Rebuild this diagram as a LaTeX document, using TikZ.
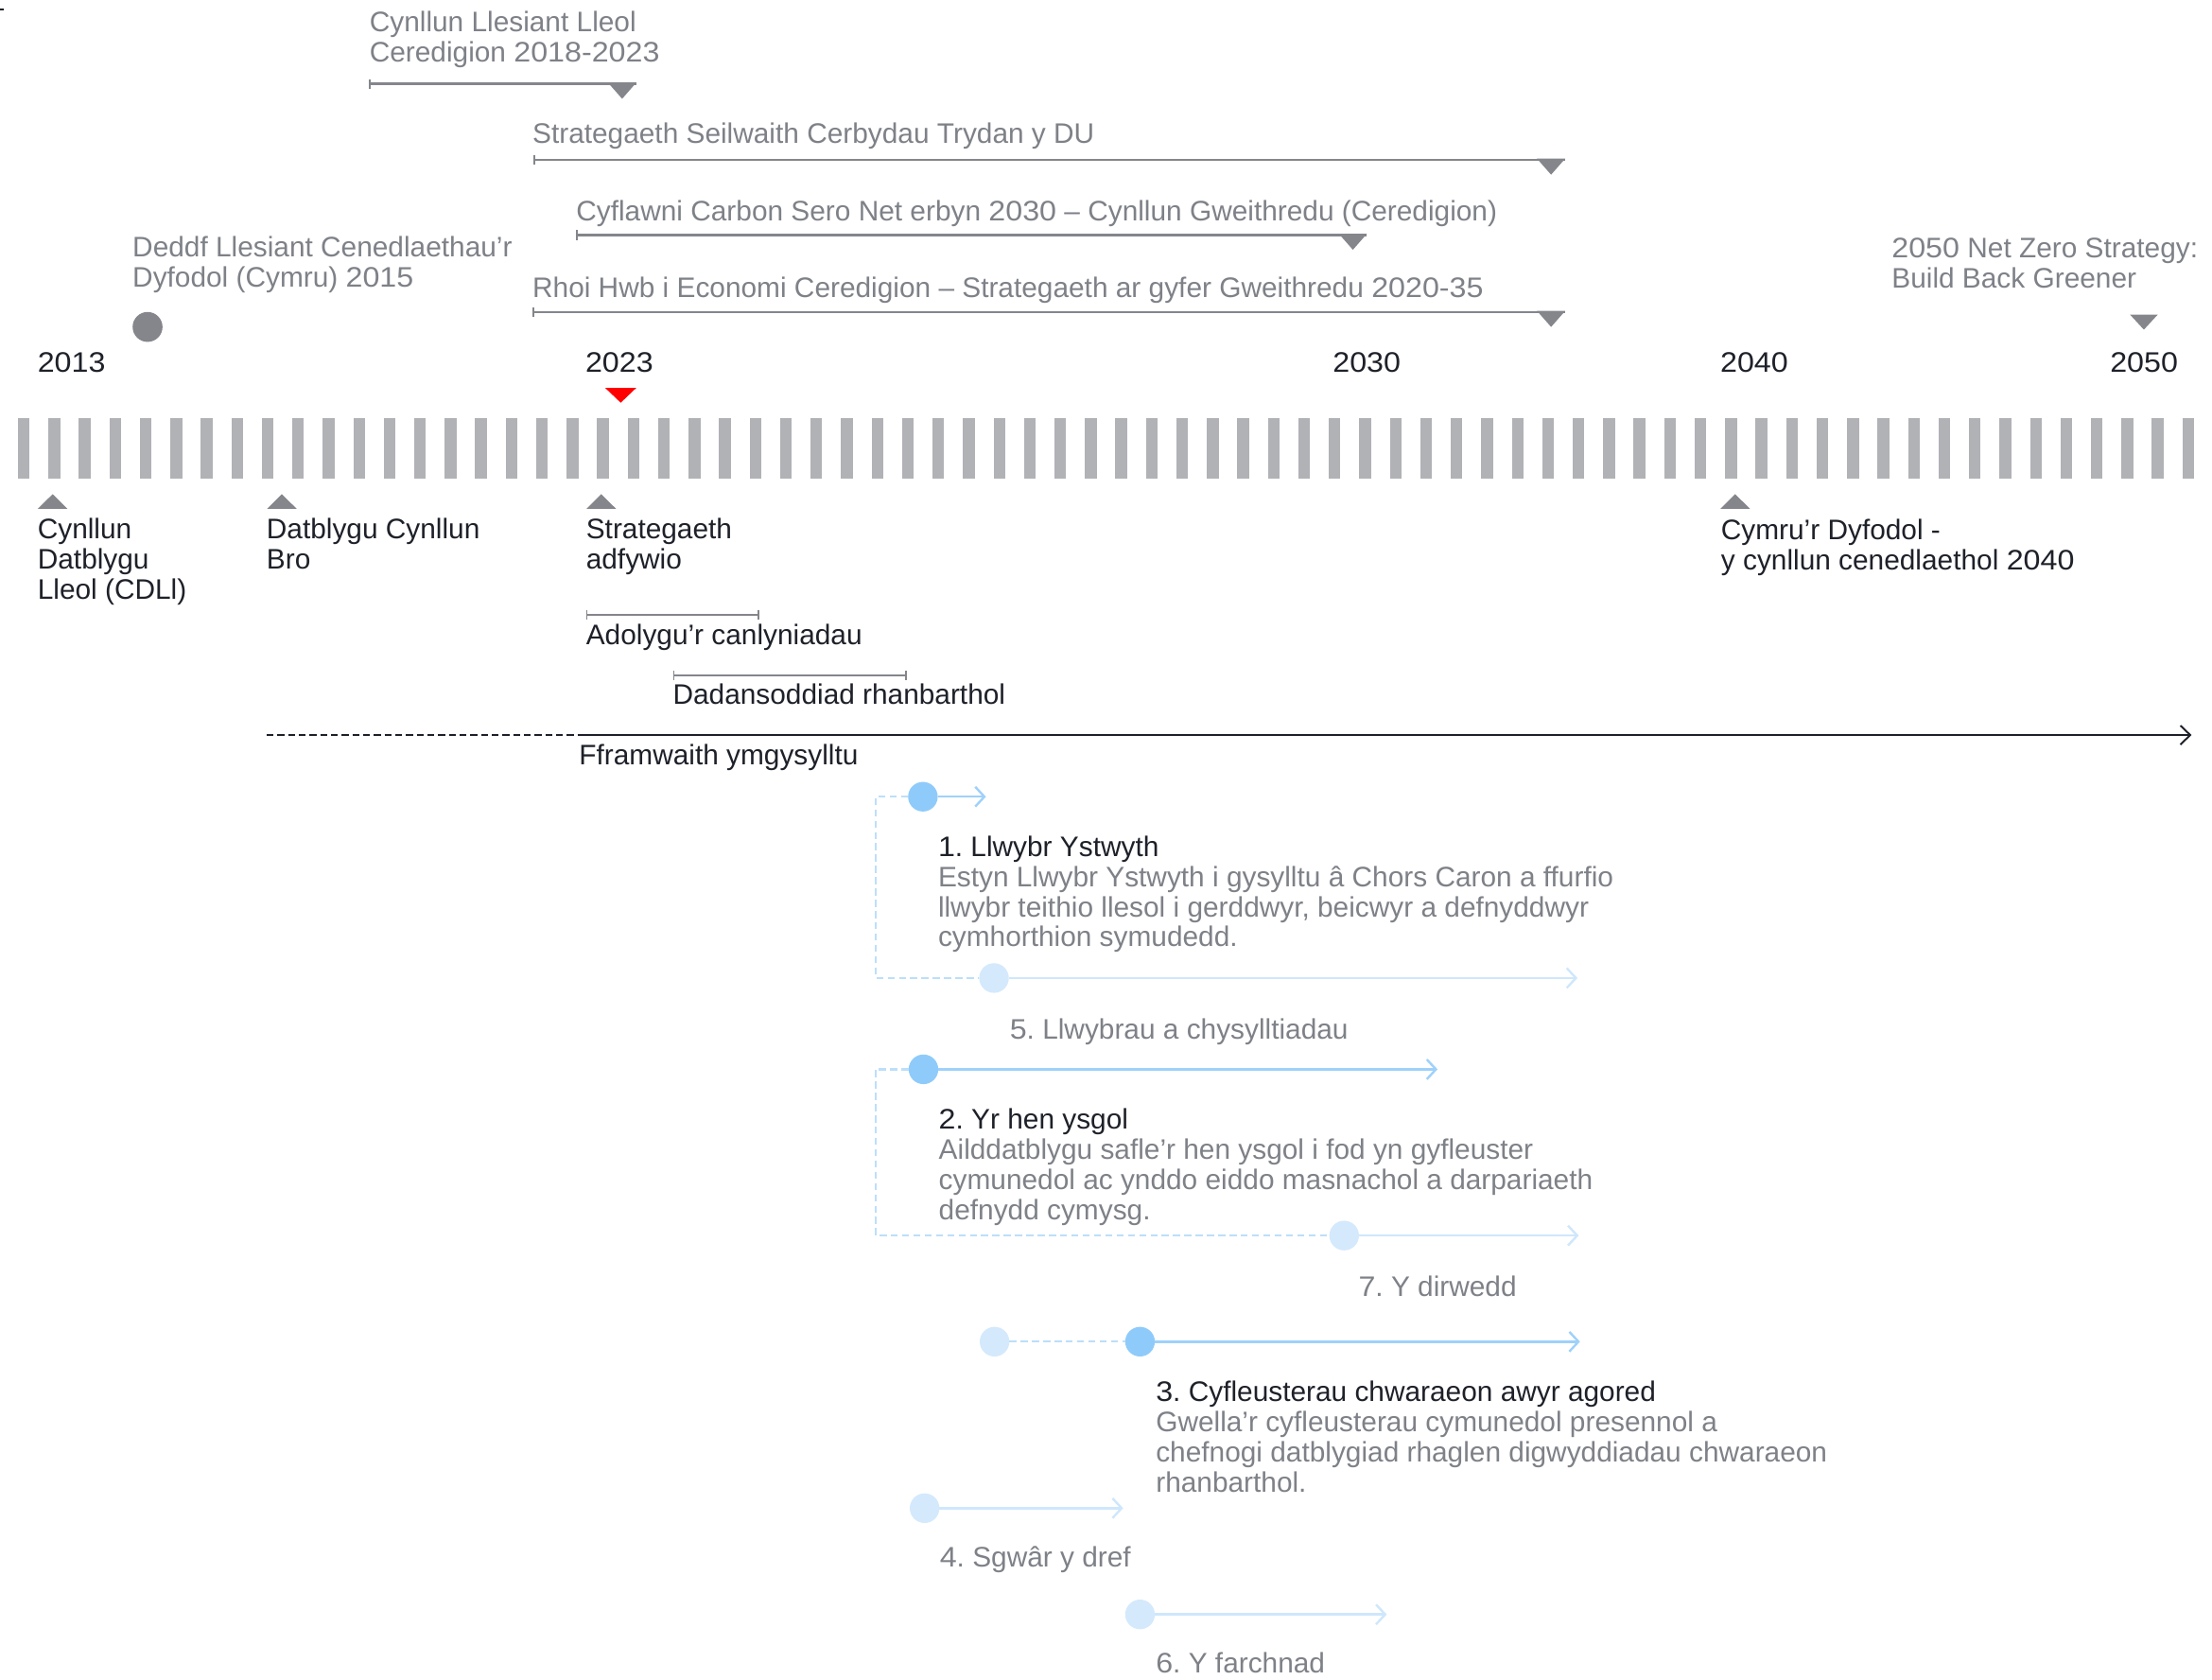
\documentclass[tikz,border=0pt]{standalone}
\usepackage{fontspec}
\setmainfont{Liberation Sans}
\usetikzlibrary{arrows.meta}
\definecolor{ink}{HTML}{1E2129}
\definecolor{muted}{HTML}{7E8187}
\definecolor{lnGray}{HTML}{84868B}
\definecolor{barGray}{HTML}{B1B2B6}
\definecolor{bMid}{HTML}{8FCBFA}
\definecolor{bLine}{HTML}{9FD1FA}
\definecolor{bPale}{HTML}{D4E9FC}
\definecolor{bPaleLine}{HTML}{CFE7FC}
\definecolor{bDash}{HTML}{BCDFFA}
\definecolor{redMark}{HTML}{FF0000}
\newcommand{\mlines}[1]{\begin{tabular}[t]{@{}l@{}}#1\end{tabular}}
\newcommand{\dg}[1]{\scalebox{1.08}[1]{#1}}
\newcommand{\tlspan}[4]{%
  \coordinate (#1s) at (#2,#4);
  \coordinate (#1e) at (#3,#4);
  \draw[spanline] (#1s) -- (#1e);
  \draw[tickline] (#1s) ++(0,-3.5) -- ++(0,7);
  \fill[trifill] (#1e) ++(0,-0.9) -- ++(-20,0) -- ++(10,11.4) -- cycle;}
\begin{document}
\frenchspacing
\begin{tikzpicture}[x=1pt,y=-1pt,
  every node/.style={inner sep=0pt, outer sep=0pt, font=\fontsize{20}{21.3}\selectfont\frenchspacing},
  lbl/.style={anchor=base west, text=ink},
  glbl/.style={anchor=base west, text=muted},
  spanline/.style={draw=lnGray, line width=1.7pt},
  tickline/.style={draw=lnGray, line width=1.2pt},
  bracket/.style={draw=lnGray, line width=1.4pt},
  trifill/.style={fill=lnGray},
  dot/.style={circle, minimum size=21pt},
  middot/.style={dot, fill=bMid},
  paledot/.style={dot, fill=bPale},
  barb/.style={-{Straight Barb[length=6.5pt,width=14pt]}},
  midarrow/.style={barb, draw=bLine, line width=1.6pt},
  palearrow/.style={barb, draw=bPaleLine, line width=1.6pt},
  bluedash/.style={draw=bDash, line width=1.5pt, dash pattern=on 5pt off 3pt},
]
\useasboundingbox (0,0) rectangle (1568,1190);
\fill[white] (0,0) rectangle (1568,1190);

% stray mark at top-left
\draw[ink, line width=1pt] (0,6.7) -- (3,6.7);

% ---------- top strategies ----------
\node[glbl] (tCLL) at (262,22.3) {\mlines{Cynllun Llesiant Lleol\\Ceredigion \dg{2018-2023}}};
\tlspan{cll}{262}{451}{59.5}
\node[glbl] (tSSC) at (377.5,101.7) {Strategaeth Seilwaith Cerbydau Trydan y DU};
\tlspan{ssc}{379}{1109.5}{113.3}
\node[glbl] (tCCS) at (408.5,156.4) {Cyflawni Carbon Sero Net erbyn \dg{2030} – Cynllun Gweithredu (Ceredigion)};
\tlspan{ccs}{409}{969}{166.5}
\node[glbl] (tRHW) at (377.5,210.5) {Rhoi Hwb i Economi Ceredigion – Strategaeth ar gyfer Gweithredu \dg{2020-35}};
\tlspan{rhw}{378}{1109.5}{221.2}

\node[glbl] (tDeddf) at (94,182.1) {\mlines{Deddf Llesiant Cenedlaethau’r\\Dyfodol (Cymru) \dg{2015}}};
\node[dot, minimum size=21.2pt, fill=lnGray] (dDeddf) at (104.6,231.7) {};

\node[glbl] (tNZ) at (1341,182.5) {\mlines{\dg{2050} Net Zero Strategy:\\Build Back Greener}};
\coordinate (nzTri) at (1519.7,223);
\fill[trifill] (nzTri) ++(-9.8,0) -- ++(19.6,0) -- ++(-9.8,10.6) -- cycle;

% ---------- years ----------
\node[lbl] (y2013) at (26.7,263.8) {\dg{2013}};
\node[lbl] (y2023) at (415,263.8) {\dg{2023}};
\node[lbl] (y2030) at (944.8,264) {\dg{2030}};
\node[lbl] (y2040) at (1219.5,264) {\dg{2040}};
\node[lbl] (y2050) at (1495.8,264) {\dg{2050}};
\coordinate (nowMark) at (440,285.4);
\fill[redMark] (nowMark) -- ++(-11,-10.5) -- ++(22,0) -- cycle;

% ---------- bars ----------
\foreach \i in {0,...,71}
  \fill[barGray] ({12.7+21.61*\i},296.5) rectangle ++(8.3,42.7);

% ---------- milestones below ----------
\foreach \cx in {37.3,199.8,426.2,1230}
  \fill[trifill] (\cx,350.2) -- ({\cx+10.5},360.6) -- ({\cx-10.5},360.6) -- cycle;
\node[lbl] (mCDLl) at (26.7,382.1) {\mlines{Cynllun\\Datblygu\\Lleol (CDLl)}};
\node[lbl] (mBro) at (189,382.1) {\mlines{Datblygu Cynllun\\Bro}};
\node[lbl] (mAdf) at (415.5,382.1) {\mlines{Strategaeth\\adfywio}};
\node[lbl] (mCym) at (1220,382.5) {\mlines{Cymru’r Dyfodol -\\y cynllun cenedlaethol \dg{2040}}};

% ---------- brackets ----------
\coordinate (adS) at (416,435.8);
\coordinate (adE) at (537.8,435.8);
\draw[bracket] (adS) -- (adE);
\draw[tickline] (adS) ++(0,-3.4) -- ++(0,6.8);
\draw[tickline] (adE) ++(0,-3.4) -- ++(0,6.8);
\node[lbl] (tAd) at (415.5,457) {Adolygu’r canlyniadau};

\coordinate (daS) at (477.6,478.9);
\coordinate (daE) at (642.2,478.9);
\draw[bracket] (daS) -- (daE);
\draw[tickline] (daS) ++(0,-3.4) -- ++(0,6.8);
\draw[tickline] (daE) ++(0,-3.4) -- ++(0,6.8);
\node[lbl] (tDa) at (477,499.4) {Dadansoddiad rhanbarthol};

% ---------- engagement framework ----------
\coordinate (fwS) at (189,520.9);
\coordinate (fwM) at (410,520.9);
\coordinate (fwE) at (1553.5,520.9);
\draw[ink, line width=1.3pt, dash pattern=on 5pt off 2.6pt] (fwS) -- (fwM);
\draw[ink, line width=1.3pt, -{Straight Barb[length=7pt,width=13.5pt]}] (fwM) -- (fwE);
\node[lbl] (tFw) at (410.5,541.9) {Fframwaith ymgysylltu};

% ---------- project 1 / 5 ----------
\node[middot] (c1) at (654.2,564.6) {};
\coordinate (a1) at (698.9,564.6);
\draw[midarrow] (c1) -- (a1);
\node[paledot] (c5) at (704.6,693.1) {};
\coordinate (a5) at (1118.2,693.1);
\draw[palearrow] (c5) -- (a5);
\coordinate (k1) at (620.7,564.6);
\draw[bluedash] (c1.west) -- (k1) |- (c5.west);
\node[glbl] (p1) at (665,607) {\mlines{\textcolor{ink}{\dg{1}. Llwybr Ystwyth}\\Estyn Llwybr Ystwyth i gysylltu â Chors Caron a ffurfio\\llwybr teithio llesol i gerddwyr, beicwyr a defnyddwyr\\cymhorthion symudedd.}};
\node[glbl] (p5) at (715.8,736.2) {\dg{5}. Llwybrau a chysylltiadau};

% ---------- project 2 / 7 ----------
\node[middot] (c2) at (654.6,757.8) {};
\coordinate (a2) at (1019,757.8);
\draw[midarrow] (c2) -- (a2);
\node[paledot] (c7) at (952.8,875.6) {};
\coordinate (a7) at (1119.1,875.6);
\draw[palearrow] (c7) -- (a7);
\coordinate (k2) at (620.7,757.8);
\draw[bluedash] (c2.west) -- (k2) |- (c7.west);
\node[glbl] (p2) at (665.5,800.4) {\mlines{\textcolor{ink}{\dg{2}. Yr hen ysgol}\\Ailddatblygu safle’r hen ysgol i fod yn gyfleuster\\cymunedol ac ynddo eiddo masnachol a darpariaeth\\defnydd cymysg.}};
\node[glbl] (p7) at (963,918.5) {\dg{7}. Y dirwedd};

% ---------- project 3 ----------
\node[paledot] (c3a) at (705,950.8) {};
\node[middot] (c3) at (808.1,950.8) {};
\coordinate (a3) at (1120,950.8);
\draw[bluedash] (c3a) -- (c3);
\draw[midarrow] (c3) -- (a3);
\node[glbl] (p3) at (819.4,993.3) {\mlines{\textcolor{ink}{\dg{3}. Cyfleusterau chwaraeon awyr agored}\\Gwella’r cyfleusterau cymunedol presennol a\\chefnogi datblygiad rhaglen digwyddiadau chwaraeon\\rhanbarthol.}};

% ---------- project 4 ----------
\node[paledot] (c4) at (655.4,1068.8) {};
\coordinate (a4) at (796.2,1068.8);
\draw[palearrow] (c4) -- (a4);
\node[glbl] (p4) at (666.2,1110.6) {\dg{4}. Sgwâr y dref};

% ---------- project 6 ----------
\node[paledot] (c6) at (808.1,1144.1) {};
\coordinate (a6) at (983,1144.1);
\draw[palearrow] (c6) -- (a6);
\node[glbl] (p6) at (819.4,1185.4) {\dg{6}. Y farchnad};
\end{tikzpicture}
\end{document}
